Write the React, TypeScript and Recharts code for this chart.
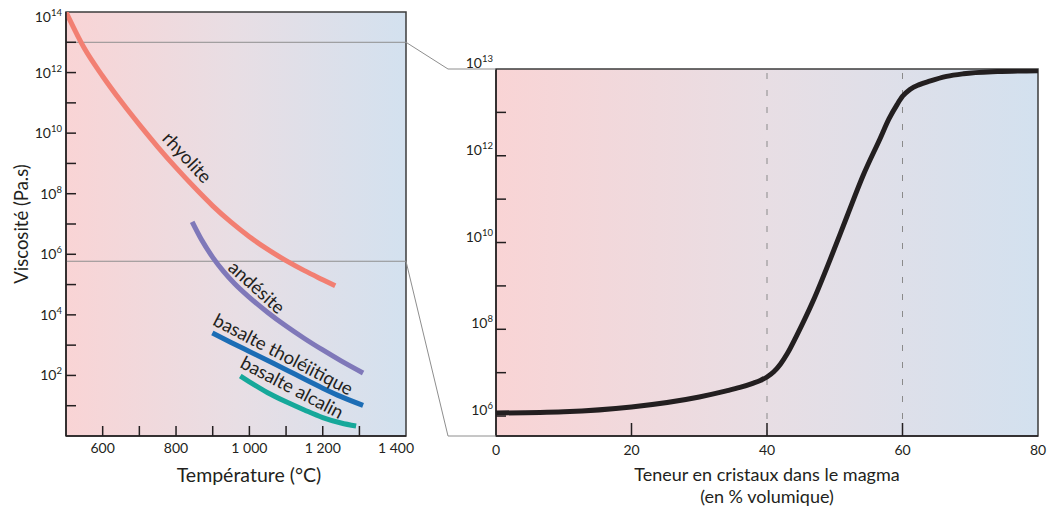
import React from 'react';
import {
    LineChart,
    Line,
    XAxis,
    YAxis,
    ReferenceArea,
    ReferenceLine,
    ReferenceDot
} from 'recharts';

const FONT = 'Lato, "Open Sans", sans-serif';
const INK = '#231f20';
const FRAME = '#3c3c3c';
const ZOOM_GREY = '#8e8e8e';

// ---- left panel : viscosity (log10 Pa.s) vs temperature (°C)
const RHYOLITE_T = [500, 550, 600, 650, 700, 750, 800, 850, 900, 950, 1000, 1050, 1100, 1150, 1200, 1234];
const RHYOLITE_V = [14.0, 12.8, 11.88, 11.05, 10.28, 9.55, 8.86, 8.21, 7.6, 7.06, 6.58, 6.16, 5.79, 5.46, 5.16, 4.96];
const ANDESITE_T = [844, 870, 900, 930, 960, 1000, 1050, 1100, 1150, 1200, 1250, 1310];
const ANDESITE_V = [7.07, 6.47, 5.9, 5.43, 5.03, 4.58, 4.08, 3.63, 3.22, 2.84, 2.48, 2.08];
const THOLEIITE_T = [899, 950, 1000, 1050, 1100, 1150, 1200, 1250, 1310];
const THOLEIITE_V = [3.4, 3.09, 2.79, 2.49, 2.19, 1.88, 1.58, 1.3, 1.01];
const ALKALI_T = [975, 1000, 1050, 1100, 1150, 1200, 1250, 1291];
const ALKALI_V = [1.98, 1.79, 1.43, 1.13, 0.86, 0.61, 0.43, 0.33];

const CURVE_NAMES = ['rhyolite', 'andésite', 'basalte tholéiitique', 'basalte alcalin'];
const CURVE_COLORS = ['#f27f72', '#7f78b9', '#1c6db5', '#16a89a'];
const LABEL_T = [831, 1021, 1093, 1117];
const LABEL_V = [9.21, 4.92, 2.71, 1.62];
const LABEL_ANGLE = [47, 42, 27.5, 27.5];

const LEFT_X_DOMAIN = [500, 1427];
const LEFT_X_TICKS = [600, 700, 800, 900, 1000, 1100, 1200, 1300, 1400];
const LEFT_X_LABELS = ['600', '', '800', '', '1 000', '', '1 200', '', '1 400'];
const LEFT_Y_DOMAIN = [0, 14];
const LEFT_Y_TICKS = [1, 2, 3, 4, 5, 6, 7, 8, 9, 10, 11, 12, 13, 14];
const LEFT_Y_LABELS = ['', '2', '', '4', '', '6', '', '8', '', '10', '', '12', '', '14'];
const ZOOM_BAND = [5.77, 13];

// ---- right panel : viscosity vs crystal content (% vol)
const CRYSTAL_PCT = [0, 10, 20, 30, 34, 36, 38, 39, 40, 41, 42, 43, 44.4, 46.8, 49.3, 51.8, 54.2, 56.7, 58, 59.2, 60, 61.1, 62.5, 64, 66.5, 69, 74, 80];
const CRYSTAL_V = [6.07, 6.1, 6.21, 6.44, 6.58, 6.66, 6.76, 6.82, 6.9, 7.02, 7.2, 7.44, 7.86, 8.65, 9.6, 10.6, 11.55, 12.4, 12.85, 13.18, 13.37, 13.53, 13.64, 13.72, 13.83, 13.89, 13.94, 13.96];
const THRESHOLDS = [40, 60];

const RIGHT_X_DOMAIN = [0, 80];
const RIGHT_X_TICKS = [0, 20, 40, 60, 80];
const RIGHT_Y_DOMAIN = [5.54, 14];
const RIGHT_Y_TICKS = [6, 7, 8, 9, 10, 11, 12, 13, 14];
const RIGHT_Y_LABELS = ['6', '', '8', '', '10', '', '12', '', '13'];

const zip = (xs: number[], ys: number[]) => xs.map((t, i) => ({ t, v: ys[i] }));

// plot areas in page pixels
const LP = { left: 66, right: 406, top: 12, bottom: 436 };
const RP = { left: 496, right: 1038, top: 69, bottom: 436 };
const LEFT_W = 430;
const RIGHT_X0 = 430;
const RIGHT_W = 619;
const AXIS_W = 50;

const Pow = ({ x, y, exp, anchor }: any) => (
    <text x={x} y={y} textAnchor={anchor} fill={INK} fontSize={14} fontFamily={FONT}>
        <tspan>10</tspan>
        <tspan fontSize={9.5} dy={-6}>{exp}</tspan>
    </text>
);

const LeftYTick = ({ x, y, payload }: any) => {
    const i = LEFT_Y_TICKS.indexOf(payload.value);
    const label = LEFT_Y_LABELS[i];
    const top = payload.value === LEFT_Y_DOMAIN[1];
    return (
        <g>
            {!top && <line x1={x} x2={x + 10} y1={y} y2={y} stroke={INK} strokeWidth={1.5} />}
            {label && <Pow x={x - 4} y={top ? y + 10 : y + 5} exp={label} anchor="end" />}
        </g>
    );
};

const RightYTick = ({ x, y, payload }: any) => {
    const i = RIGHT_Y_TICKS.indexOf(payload.value);
    const label = RIGHT_Y_LABELS[i];
    const top = payload.value === RIGHT_Y_DOMAIN[1];
    return (
        <g>
            {!top && <line x1={x} x2={x + 10} y1={y} y2={y} stroke={INK} strokeWidth={1.5} />}
            {label && <Pow x={x - 3} y={y - 1} exp={label} anchor="end" />}
        </g>
    );
};

const LeftXTick = ({ x, y, payload }: any) => {
    const i = LEFT_X_TICKS.indexOf(payload.value);
    return (
        <g>
            {payload.value < 1400 && <line x1={x} x2={x} y1={y - 10} y2={y} stroke={INK} strokeWidth={1.5} />}
            {LEFT_X_LABELS[i] && (
                <text x={x} y={y + 17} textAnchor="middle" fill={INK} fontSize={14} fontFamily={FONT}>
                    {LEFT_X_LABELS[i]}
                </text>
            )}
        </g>
    );
};

const RightXTick = ({ x, y, payload }: any) => {
    const edge = payload.value === RIGHT_X_DOMAIN[0] || payload.value === RIGHT_X_DOMAIN[1];
    return (
        <g>
            {!edge && <line x1={x} x2={x} y1={y - 13} y2={y} stroke={INK} strokeWidth={1.5} />}
            <text x={x} y={y + 19} textAnchor="middle" fill={INK} fontSize={14} fontFamily={FONT}>
                {payload.value}
            </text>
        </g>
    );
};

const CurveLabel = ({ cx, cy, text, angle }: any) => (
    <text
        x={cx}
        y={cy}
        transform={`rotate(${angle}, ${cx}, ${cy})`}
        textAnchor="middle"
        dominantBaseline="central"
        fill={INK}
        fontSize={18.5}
        fontFamily={FONT}
    >
        {text}
    </text>
);

const gradientStops = (
    <>
        <stop offset="0%" stopColor="#f9d4d5" />
        <stop offset="50%" stopColor="#e8dee4" />
        <stop offset="100%" stopColor="#d3e1ef" />
    </>
);

const leftYpx = (v: number) =>
    LP.top + ((LEFT_Y_DOMAIN[1] - v) / (LEFT_Y_DOMAIN[1] - LEFT_Y_DOMAIN[0])) * (LP.bottom - LP.top);

const App: React.FC = () => {
    const series = [
        zip(RHYOLITE_T, RHYOLITE_V),
        zip(ANDESITE_T, ANDESITE_V),
        zip(THOLEIITE_T, THOLEIITE_V),
        zip(ALKALI_T, ALKALI_V)
    ];
    const crystal = zip(CRYSTAL_PCT, CRYSTAL_V);
    const elbowX = 448;

    return (
        <div style={{ position: 'absolute', left: 0, top: 0, width: 1049, height: 512, background: '#fff' }}>
            <div style={{ position: 'absolute', left: 0, top: 0 }}>
                <LineChart
                    width={LEFT_W}
                    height={512}
                    margin={{ top: LP.top, right: LEFT_W - LP.right, bottom: 512 - LP.bottom - 44, left: LP.left - AXIS_W }}
                >
                    <defs>
                        <linearGradient id="bgLeft" x1="0" y1="0" x2="1" y2="0">
                            {gradientStops}
                        </linearGradient>
                    </defs>
                    <XAxis
                        type="number"
                        dataKey="t"
                        domain={LEFT_X_DOMAIN}
                        ticks={LEFT_X_TICKS}
                        interval={0}
                        allowDataOverflow
                        height={44}
                        tickSize={0}
                        tickMargin={0}
                        tickLine={false}
                        axisLine={{ stroke: INK, strokeWidth: 1.5 }}
                        tick={(p: any) => <LeftXTick {...p} />}
                    />
                    <YAxis
                        type="number"
                        domain={LEFT_Y_DOMAIN}
                        ticks={LEFT_Y_TICKS}
                        interval={0}
                        allowDataOverflow
                        width={AXIS_W}
                        tickSize={0}
                        tickMargin={0}
                        tickLine={false}
                        axisLine={{ stroke: INK, strokeWidth: 1.5 }}
                        tick={(p: any) => <LeftYTick {...p} />}
                    />
                    <ReferenceArea
                        x1={LEFT_X_DOMAIN[0]}
                        x2={LEFT_X_DOMAIN[1]}
                        y1={LEFT_Y_DOMAIN[0]}
                        y2={LEFT_Y_DOMAIN[1]}
                        fill="url(#bgLeft)"
                        fillOpacity={1}
                        stroke={FRAME}
                        strokeWidth={1.5}
                    />
                    {ZOOM_BAND.map((v) => (
                        <ReferenceLine key={v} y={v} stroke={ZOOM_GREY} strokeWidth={1} />
                    ))}
                    {series.map((d, i) => (
                        <Line
                            key={CURVE_NAMES[i]}
                            data={d}
                            dataKey="v"
                            type="monotone"
                            stroke={CURVE_COLORS[i]}
                            strokeWidth={5}
                            dot={false}
                            activeDot={false}
                            isAnimationActive={false}
                        />
                    ))}
                    {CURVE_NAMES.map((name, i) => (
                        <ReferenceDot
                            key={name}
                            x={LABEL_T[i]}
                            y={LABEL_V[i]}
                            r={0}
                            shape={(p: any) => <CurveLabel cx={p.cx} cy={p.cy} text={name} angle={LABEL_ANGLE[i]} />}
                        />
                    ))}
                </LineChart>
            </div>

            <div style={{ position: 'absolute', left: RIGHT_X0, top: 0 }}>
                <LineChart
                    width={RIGHT_W}
                    height={512}
                    data={crystal}
                    margin={{
                        top: RP.top,
                        right: RIGHT_X0 + RIGHT_W - RP.right,
                        bottom: 512 - RP.bottom - 70,
                        left: RP.left - RIGHT_X0 - AXIS_W
                    }}
                >
                    <defs>
                        <linearGradient id="bgRight" x1="0" y1="0" x2="1" y2="0">
                            {gradientStops}
                        </linearGradient>
                    </defs>
                    <XAxis
                        type="number"
                        dataKey="t"
                        domain={RIGHT_X_DOMAIN}
                        ticks={RIGHT_X_TICKS}
                        interval={0}
                        allowDataOverflow
                        height={70}
                        tickSize={0}
                        tickMargin={0}
                        tickLine={false}
                        axisLine={{ stroke: INK, strokeWidth: 1.5 }}
                        tick={(p: any) => <RightXTick {...p} />}
                    />
                    <YAxis
                        type="number"
                        domain={RIGHT_Y_DOMAIN}
                        ticks={RIGHT_Y_TICKS}
                        interval={0}
                        allowDataOverflow
                        width={AXIS_W}
                        tickSize={0}
                        tickMargin={0}
                        tickLine={false}
                        axisLine={{ stroke: INK, strokeWidth: 1.5 }}
                        tick={(p: any) => <RightYTick {...p} />}
                    />
                    <ReferenceArea
                        x1={RIGHT_X_DOMAIN[0]}
                        x2={RIGHT_X_DOMAIN[1]}
                        y1={RIGHT_Y_DOMAIN[0]}
                        y2={RIGHT_Y_DOMAIN[1]}
                        fill="url(#bgRight)"
                        fillOpacity={1}
                        stroke={FRAME}
                        strokeWidth={1.5}
                    />
                    {THRESHOLDS.map((x) => (
                        <ReferenceLine key={x} x={x} stroke="#8a8a8a" strokeWidth={1} strokeDasharray="6 11" />
                    ))}
                    <Line
                        dataKey="v"
                        type="monotone"
                        stroke={INK}
                        strokeWidth={5}
                        dot={false}
                        activeDot={false}
                        isAnimationActive={false}
                    />
                </LineChart>
            </div>

            <svg
                width={1049}
                height={512}
                style={{ position: 'absolute', left: 0, top: 0, pointerEvents: 'none' }}
            >
                <polyline
                    points={`${LP.right},${leftYpx(ZOOM_BAND[1])} ${elbowX},${RP.top} ${RP.left},${RP.top}`}
                    fill="none"
                    stroke={ZOOM_GREY}
                    strokeWidth={1}
                />
                <polyline
                    points={`${LP.right},${leftYpx(ZOOM_BAND[0])} ${elbowX},${RP.bottom} ${RP.left},${RP.bottom}`}
                    fill="none"
                    stroke={ZOOM_GREY}
                    strokeWidth={1}
                />
                <text
                    x={21}
                    y={(LP.top + LP.bottom) / 2}
                    transform={`rotate(-90, 21, ${(LP.top + LP.bottom) / 2})`}
                    textAnchor="middle"
                    dominantBaseline="central"
                    fill={INK}
                    fontSize={18.5}
                    fontFamily={FONT}
                >
                    Viscosité (Pa.s)
                </text>
                <text x={249} y={482} textAnchor="middle" fill={INK} fontSize={19.5} fontFamily={FONT}>
                    Température (°C)
                </text>
                <text x={(RP.left + RP.right) / 2} y={481} textAnchor="middle" fill={INK} fontSize={18} fontFamily={FONT}>
                    Teneur en cristaux dans le magma
                </text>
                <text x={(RP.left + RP.right) / 2} y={503} textAnchor="middle" fill={INK} fontSize={18} fontFamily={FONT}>
                    (en % volumique)
                </text>
            </svg>
        </div>
    );
};

export default App;
